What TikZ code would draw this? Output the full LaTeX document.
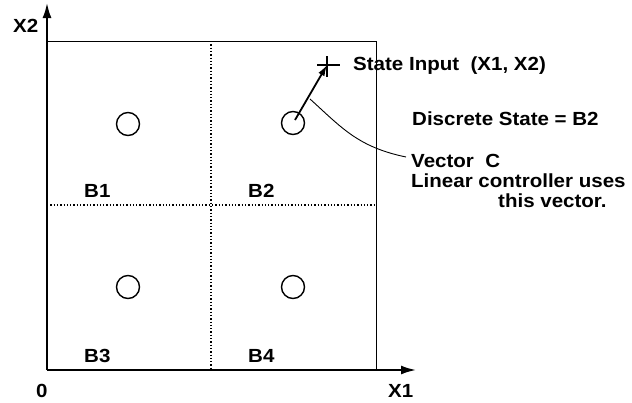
\documentclass[tikz,border=0pt]{standalone}
\usepackage{fontspec}
\setmainfont{Liberation Sans}
\newfontfamily\lab{Liberation Sans}[BoldFont={Liberation Sans Bold},FakeStretch=1.08]
\usetikzlibrary{arrows.meta}
\begin{document}
\begin{tikzpicture}[x=1pt,y=-1pt,
  lbl/.style={font=\lab\bfseries\fontsize{19}{20}\selectfont, inner sep=0pt, anchor=base west},
  axis/.style={line width=2pt,-{Latex[length=15pt,width=9pt]}},
  thin/.style={line width=1pt},
  grid/.style={line width=1.3pt,dotted},
  cell/.style={circle,draw,line width=1.4pt,minimum size=23pt,inner sep=0pt}]
\useasboundingbox (0,0) rectangle (632,402);
\coordinate (O) at (47,370);
\coordinate (ytip) at (47,3);
\coordinate (xtip) at (416,370);
\coordinate (TL) at (47,41);
\coordinate (TR) at (376,41);
\coordinate (BR) at (376,370);
\coordinate (gt) at (211,41);
\coordinate (gb) at (211,370);
\coordinate (gl) at (47,205);
\coordinate (gr) at (376,205);
\draw[thin] (TL) -- (TR) -- (BR);
\draw[grid] (gt) -- (gb);
\draw[grid] (gl) -- (gr);
\draw[axis] (O) -- (ytip);
\draw[axis] (O) -- (xtip);
\node[cell] (c1) at (128,124) {};
\node[cell] (c2) at (293,123) {};
\node[cell] (c3) at (128,287) {};
\node[cell] (c4) at (293,287) {};
\coordinate (P) at (327,65);
\coordinate (ph1) at (317,65);
\coordinate (ph2) at (340,65);
\coordinate (pv1) at (327,56);
\coordinate (pv2) at (327,77);
\draw[line width=1.4pt] (ph1) -- (ph2) (pv1) -- (pv2);
\coordinate (as) at (295,120);
\draw[line width=1.8pt,-{Latex[length=11pt,width=7pt]}] (as) -- (P);
\coordinate (vs) at (310,99);
\coordinate (ve) at (406,157);
\draw[line width=0.9pt] (vs) .. controls (342,128) and (358,147) .. (ve);
\node[lbl] (x2) at (13,32) {X2};
\node[lbl] (zero) at (36,397) {0};
\node[lbl] (x1) at (388,397) {X1};
\node[lbl] (b1) at (84,197) {B1};
\node[lbl] (b2) at (248,197) {B2};
\node[lbl] (b3) at (84,362) {B3};
\node[lbl] (b4) at (248,362) {B4};
\node[lbl] (si) at (353,70) {State Input\ \ (X1, X2)};
\node[lbl] (ds) at (412,125) {Discrete State = B2};
\node[lbl] (vc) at (411,167) {Vector\ \ C};
\node[lbl] (lc) at (411,187) {Linear controller uses};
\node[lbl] (tv) at (498,207) {this vector.};
\end{tikzpicture}
\end{document}
